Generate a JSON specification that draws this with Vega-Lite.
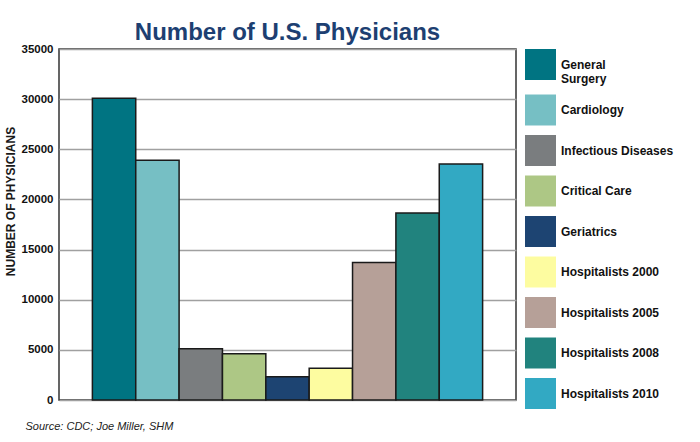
{
  "$schema": "https://vega.github.io/schema/vega-lite/v6.json",
  "width": 457,
  "height": 351,
  "padding": {"left": 4, "top": 21, "right": 5, "bottom": 5},
  "background": "#ffffff",
  "title": {
    "text": "Number of U.S. Physicians",
    "font": "Liberation Sans",
    "fontSize": 24,
    "fontWeight": "bold",
    "color": "#1d3f72",
    "anchor": "middle",
    "baseline": "top",
    "offset": -2
  },
  "data": {
    "values": [
      {"specialty": "General Surgery", "physicians": 30100},
      {"specialty": "Cardiology", "physicians": 23900},
      {"specialty": "Infectious Diseases", "physicians": 5100},
      {"specialty": "Critical Care", "physicians": 4600},
      {"specialty": "Geriatrics", "physicians": 2330},
      {"specialty": "Hospitalists 2000", "physicians": 3170},
      {"specialty": "Hospitalists 2005", "physicians": 13700},
      {"specialty": "Hospitalists 2008", "physicians": 18650},
      {"specialty": "Hospitalists 2010", "physicians": 23530}
    ]
  },
  "mark": {"type": "bar", "stroke": "#1a1a1a", "strokeWidth": 1.5},
  "encoding": {
    "x": {
      "field": "specialty",
      "type": "nominal",
      "sort": null,
      "scale": {"paddingInner": 0, "paddingOuter": 0.77},
      "axis": {
        "labels": false,
        "ticks": false,
        "domain": false,
        "title": "Source: CDC; Joe Miller, SHM",
        "titleFont": "Liberation Sans",
        "titleFontStyle": "italic",
        "titleFontWeight": "normal",
        "titleFontSize": 11,
        "titleColor": "#222222",
        "titleAnchor": "start",
        "titleAlign": "left",
        "titleX": -34,
        "titleY": 29,
        "titleBaseline": "alphabetic"
      }
    },
    "y": {
      "field": "physicians",
      "type": "quantitative",
      "scale": {"domain": [0, 35000], "nice": false},
      "axis": {
        "values": [0, 5000, 10000, 15000, 20000, 25000, 30000, 35000],
        "format": "d",
        "title": "NUMBER OF PHYSICIANS",
        "titleFont": "Liberation Sans",
        "titleFontSize": 12,
        "titleFontWeight": "bold",
        "titleColor": "#1a1a1a",
        "titlePadding": 4,
        "titleY": 152,
        "labelFont": "Liberation Sans",
        "labelFontSize": 11.5,
        "labelFontWeight": "bold",
        "labelColor": "#111111",
        "labelPadding": 6,
        "ticks": false,
        "domain": false,
        "grid": true,
        "gridColor": "#a0a0a0",
        "gridWidth": 1.5
      }
    },
    "color": {
      "field": "specialty",
      "type": "nominal",
      "sort": null,
      "scale": {
        "domain": ["General Surgery", "Cardiology", "Infectious Diseases", "Critical Care", "Geriatrics", "Hospitalists 2000", "Hospitalists 2005", "Hospitalists 2008", "Hospitalists 2010"],
        "range": ["#007482", "#76bfc4", "#7a7d7f", "#adc785", "#1d4472", "#fdfca0", "#b6a098", "#21837e", "#32a9c3"]
      },
      "legend": {
        "title": null,
        "orient": "right",
        "offset": 9,
        "padding": 0,
        "symbolType": "square",
        "symbolSize": 961,
        "symbolStrokeWidth": 0,
        "symbolOpacity": 1,
        "labelFont": "Liberation Sans",
        "labelFontSize": 12,
        "labelFontWeight": "bold",
        "labelColor": "#111111",
        "labelOffset": 5,
        "labelLimit": 200,
        "rowPadding": 9.5,
        "labelExpr": "datum.label == 'General Surgery' ? ['General', 'Surgery'] : datum.label"
      }
    }
  },
  "config": {
    "view": {"stroke": "#333333", "strokeWidth": 1.5}
  }
}
